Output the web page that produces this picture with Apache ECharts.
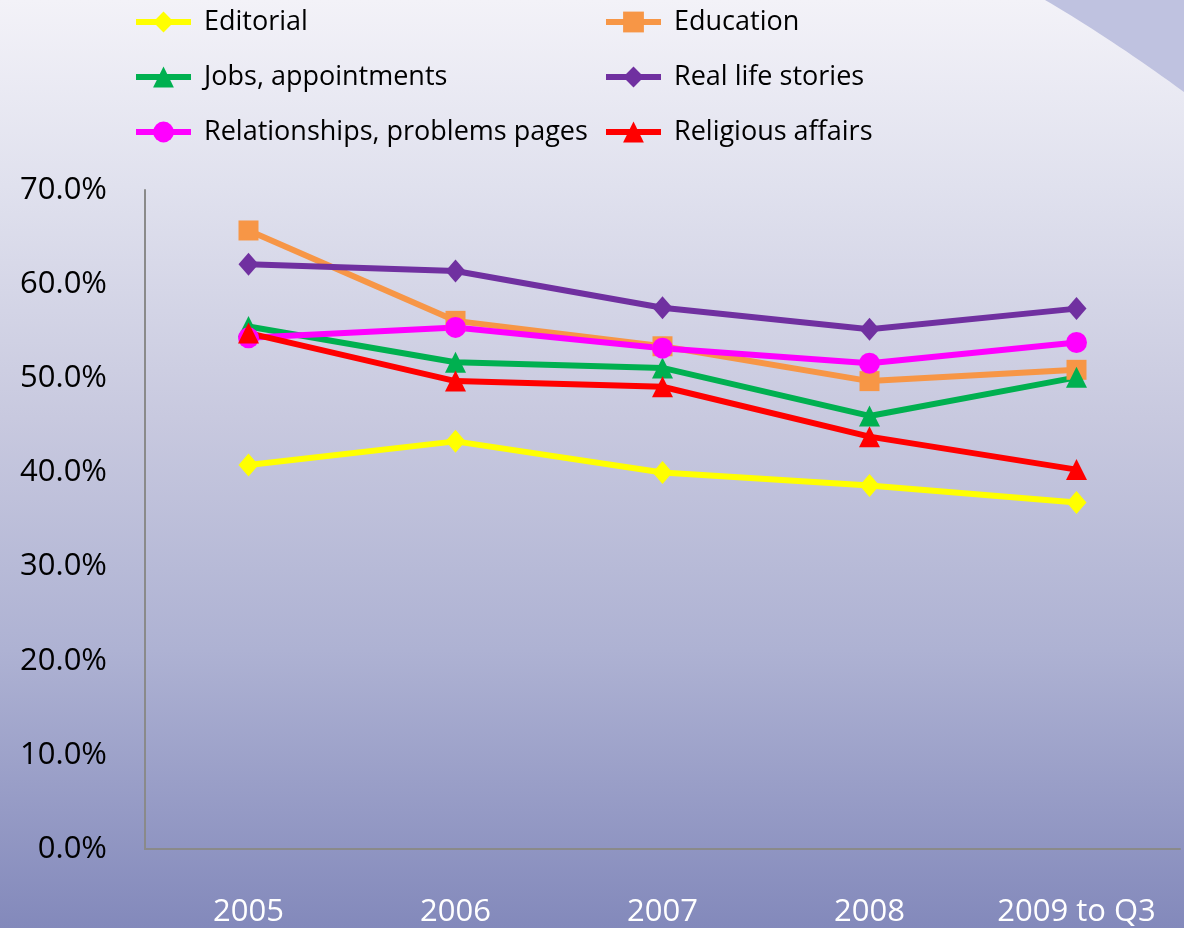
<!DOCTYPE html>
<html><head><meta charset="utf-8">
<script src="https://cdn.jsdelivr.net/npm/echarts@6/dist/echarts.min.js"></script>
<style>html,body{margin:0;padding:0;}#c{width:1184px;height:928px;}</style>
</head><body><div id="c"></div>
<script>
const categories = ['2005', '2006', '2007', '2008', '2009 to Q3'];
const yTicks = [0, 10, 20, 30, 40, 50, 60, 70];
const editorial = [40.8, 43.3, 40.0, 38.6, 36.8];
const education = [65.7, 56.1, 53.4, 49.7, 50.9];
const jobs = [55.5, 51.7, 51.1, 46.0, 50.1];
const realLife = [62.1, 61.4, 57.5, 55.2, 57.4];
const relationships = [54.3, 55.4, 53.2, 51.6, 53.8];
const religious = [54.8, 49.7, 49.1, 43.8, 40.3];

const FONT = '"Open Sans", "Noto Sans", sans-serif';
function mk(name, data, color, symbol, size) {
  return {
    name, type: 'line', data, symbol, symbolSize: size,
    lineStyle: { color, width: 6 }, itemStyle: { color },
    emphasis: { disabled: true }, animation: false
  };
}
const series = [
  mk('Editorial', editorial, '#ffff00', 'diamond', [20, 23]),
  mk('Education', education, '#f79646', 'rect', 20),
  mk('Jobs, appointments', jobs, '#00b050', 'triangle', 21),
  mk('Real life stories', realLife, '#7030a0', 'diamond', [20, 23]),
  mk('Relationships, problems pages', relationships, '#ff00ff', 'circle', 21),
  mk('Religious affairs', religious, '#ff0000', 'triangle', 21)
];
// decorative curved corner shape (background ornament)
const cornerPts = [];
for (let i = 0; i <= 20; i++) {
  const t = i / 20;
  cornerPts.push([
    (1 - t) * (1 - t) * 1045 + 2 * (1 - t) * t * 1110 + t * t * 1184,
    (1 - t) * (1 - t) * 0 + 2 * (1 - t) * t * 38 + t * t * 92
  ]);
}
cornerPts.push([1184, 0]);
const legendBase = {
  orient: 'vertical', top: 7, itemWidth: 55, itemHeight: 26, itemGap: 25,
  padding: 0,
  textStyle: { fontFamily: FONT, fontSize: 27, color: '#000', lineHeight: 30, padding: [0, 0, 0, 8] },
  lineStyle: { width: 6 }
};
const chart = echarts.init(document.getElementById('c'));
chart.setOption({
  animation: false,
  backgroundColor: {
    type: 'linear', x: 0, y: 0, x2: 0, y2: 1,
    colorStops: [
      { offset: 0, color: '#f3f2f8' },
      { offset: 0.2, color: '#e0e1ee' },
      { offset: 0.45, color: '#c8c9df' },
      { offset: 0.7, color: '#aeb2d3' },
      { offset: 1, color: '#8389bb' }
    ]
  },
  graphic: [{
    type: 'polygon', silent: true, z: -1,
    shape: { points: cornerPts },
    style: { fill: '#bfc2e0' }
  }],
  legend: [
    Object.assign({}, legendBase, { left: 133, data: ['Editorial', 'Jobs, appointments', 'Relationships, problems pages'] }),
    Object.assign({}, legendBase, { left: 603, data: ['Education', 'Real life stories', 'Religious affairs'] })
  ],
  grid: { left: 145, right: 4, top: 190, bottom: 76, containLabel: false },
  xAxis: {
    type: 'category', data: categories, boundaryGap: true,
    axisLine: { lineStyle: { color: '#8a8a8a', width: 2 } },
    axisTick: { show: false },
    axisLabel: { color: '#ffffff', fontFamily: FONT, fontSize: 31, margin: 48 }
  },
  yAxis: {
    type: 'value', min: yTicks[0], max: yTicks[yTicks.length - 1], interval: 10,
    axisLine: { show: true, lineStyle: { color: '#8a8a8a', width: 2 } },
    axisTick: { show: false },
    splitLine: { show: false },
    axisLabel: { color: '#000', fontFamily: FONT, fontSize: 31, margin: 38,
      formatter: v => v.toFixed(1) + '%' }
  },
  series
});
</script></body></html>
